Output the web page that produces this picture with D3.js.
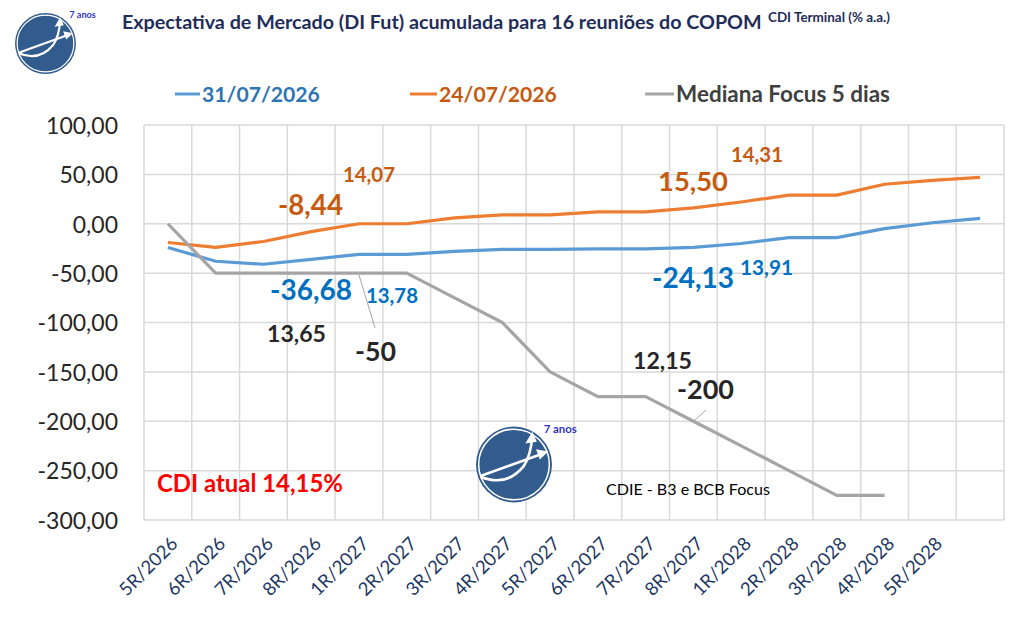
<!DOCTYPE html>
<html><head><meta charset="utf-8">
<script src="https://cdn.jsdelivr.net/npm/d3@7"></script>
<style>body{margin:0;background:#fff} svg{display:block} text{font-family:Lato,"Open Sans",sans-serif}</style>
</head><body><svg id="c" width="1011" height="629"></svg>
<script>
// ---- data ----
const categories = ["5R/2026","6R/2026","7R/2026","8R/2026","1R/2027","2R/2027","3R/2027","4R/2027","5R/2027","6R/2027","7R/2027","8R/2027","1R/2028","2R/2028","3R/2028","4R/2028","5R/2028",""];
const serie3107 = [-24,-38,-41,-36,-31,-31,-28,-26,-26,-25.5,-25.5,-24,-20,-14,-14,-5,1,5.5];
const serie2407 = [-19,-24,-18,-8,0,0,6,9,9,12,12,16,22,29,29,40,44,47];
const focus = [0,-50,-50,-50,-50,-50,-75,-100,-150,-175,-175,-200,-225,-250,-275,-275,null,null];
const yTicks = [100,50,0,-50,-100,-150,-200,-250,-300];
const seriesNames = ["31/07/2026","24/07/2026","Mediana Focus 5 dias"];
const titleText = "Expectativa de Mercado (DI Fut) acumulada para 16 reuniões do COPOM";
const titleSup = "CDI Terminal (% a.a.)";
const labelTexts = ["14,07","-8,44","15,50","14,31","-36,68","13,78","-24,13","13,91","13,65","-50","12,15","-200"];
const noteCdi = "CDI atual 14,15%";
const noteSrc = "CDIE - B3 e BCB Focus";

// ---- layout / styles ----
const svg = d3.select("#c");
const L = 144, R = 1004, T = 125, B = 520;
const x = d3.scaleBand().domain(d3.range(categories.length)).range([L, R]).padding(0);
const y = d3.scaleLinear().domain([-300, 100]).range([B, T]);
const cx = i => x(i) + x.bandwidth() / 2;
const colors = ["#5B9BD5", "#ED7D31", "#A5A5A5"];
const textColors = ["#2E75B6", "#C55A11", "#404040"];
const loc = d3.formatLocale({decimal: ",", thousands: ".", grouping: [3], currency: ["R$", ""], minus: "-"});
const fmt = loc.format(".2f");

function fit(t, w) {
  const len = t.node().getComputedTextLength();
  const fs = parseFloat(t.attr("font-size"));
  t.attr("font-size", fs * w / len);
  return t;
}

// gridlines
const grid = svg.append("g").attr("stroke", "#D9D9D9").attr("stroke-width", 1.5);
grid.selectAll("line.h").data(yTicks).join("line")
  .attr("x1", L).attr("x2", R).attr("y1", d => y(d)).attr("y2", d => y(d));
grid.selectAll("line.v").data(d3.range(categories.length + 1)).join("line")
  .attr("x1", i => L + i * x.bandwidth()).attr("x2", i => L + i * x.bandwidth())
  .attr("y1", T).attr("y2", B);

// y axis labels
const yAxis = d3.axisLeft(y).tickValues(yTicks).tickFormat(fmt).tickSize(0).tickPadding(0);
const ya = svg.append("g").attr("transform", `translate(118,0)`).call(yAxis);
ya.select(".domain").remove();
ya.selectAll("text").attr("font-family", "Lato, sans-serif").attr("font-size", 23)
  .attr("fill", "#262626").attr("dy", "0.36em");

// x axis labels
const xAxis = d3.axisBottom(x).tickFormat(i => categories[i]).tickSize(0).tickPadding(0);
const xa = svg.append("g").attr("transform", `translate(0,${B})`).call(xAxis);
xa.select(".domain").remove();
xa.selectAll(".tick text").attr("font-family", "Lato, sans-serif").attr("font-size", 18.5)
  .attr("fill", "#1F3864").attr("text-anchor", "end").attr("y", 0).attr("dy", 0)
  .attr("transform", "translate(11,25) rotate(-45)");

// logo
function logo(g, ox, oy, r) {
  const s = g.append("g").attr("transform", `translate(${ox},${oy}) scale(${r})`);
  s.append("circle").attr("r", 1).attr("fill", "#335C8E");
  s.append("circle").attr("r", 0.93).attr("fill", "none").attr("stroke", "#fff").attr("stroke-width", 0.04);
  s.append("path").attr("d", "M-0.88,0.32 Q-0.2,0.6 0.25,0.05 Q0.45,-0.25 0.48,-0.75")
    .attr("fill", "none").attr("stroke", "#fff").attr("stroke-width", 0.07);
  s.append("path").attr("d", "M-0.88,0.3 L0.8,-0.3").attr("fill", "none").attr("stroke", "#fff").attr("stroke-width", 0.07);
  s.append("path").attr("d", "M0.48,-0.86 L0.3,-0.55 L0.6,-0.6 Z").attr("fill", "#fff");
  s.append("path").attr("d", "M0.9,-0.34 L0.58,-0.4 L0.68,-0.13 Z").attr("fill", "#fff");
  g.append("text").attr("x", ox + r * 0.78).attr("y", oy - r * 0.82).attr("font-family", "'DejaVu Serif', serif")
    .attr("font-weight", "bold").attr("font-size", r * 0.3).attr("fill", "#3333CC").text("7 anos");
}
logo(svg, 45.5, 43.5, 30.5);
logo(svg, 514, 464.5, 38);

// lines
const line = d3.line().defined(d => d != null).x((d, i) => cx(i)).y(d => y(d));
[serie3107, serie2407, focus].forEach((s, k) => {
  svg.append("path").datum(s).attr("fill", "none").attr("stroke", colors[k])
    .attr("stroke-width", 3.2).attr("stroke-linejoin", "round").attr("d", line);
});

// leader lines
svg.append("g").attr("stroke", "#A6A6A6").attr("stroke-width", 1)
  .selectAll("line").data([[359, 275, 375, 328], [695, 420, 706, 410]]).join("line")
  .attr("x1", d => d[0]).attr("y1", d => d[1]).attr("x2", d => d[2]).attr("y2", d => d[3]);

// annotations
const annLayout = [
  [343, 182, 52, 1], [278, 215, 65, 1], [658, 191, 70, 1], [731, 162, 52, 1],
  [270, 300, 82, 0], [366, 303, 52, 0], [652, 288, 82, 0], [740, 275, 53, 0],
  [267, 342, 59, 2], [355, 361, 41, 2], [633, 369, 59, 2], [677, 399, 57, 2]
];
const annColors = ["#0070C0", "#C55A11", "#262626"];
labelTexts.forEach((t, i) => {
  const [ax, ay, w, c] = annLayout[i];
  fit(svg.append("text").attr("x", ax).attr("y", ay).attr("font-size", 20).attr("font-weight", "bold")
    .attr("fill", annColors[c]).text(t), w);
});
fit(svg.append("text").attr("x", 157).attr("y", 492).attr("font-size", 22).attr("font-weight", "bold")
  .attr("fill", "#FF0000").text(noteCdi), 186);
fit(svg.append("text").attr("x", 606).attr("y", 495).attr("font-size", 16)
  .attr("fill", "#000").text(noteSrc), 164);

// title
fit(svg.append("text").attr("x", 122).attr("y", 29).attr("font-size", 19).attr("font-weight", "bold")
  .attr("fill", "#1F2D5A").text(titleText), 640);
fit(svg.append("text").attr("x", 768).attr("y", 22).attr("font-size", 11).attr("font-weight", "bold")
  .attr("fill", "#1F2D5A").text(titleSup), 122);

// legend
const legX = [[175, 202, 118], [410, 439, 118], [645, 676, 214]];
seriesNames.forEach((n, k) => {
  const [lx, tx, w] = legX[k];
  svg.append("line").attr("x1", lx).attr("x2", tx - 2).attr("y1", 94).attr("y2", 94)
    .attr("stroke", colors[k]).attr("stroke-width", 3);
  fit(svg.append("text").attr("x", tx).attr("y", 101.5).attr("font-size", 21).attr("font-weight", "bold")
    .attr("fill", textColors[k]).text(n), w);
});
</script></body></html>
